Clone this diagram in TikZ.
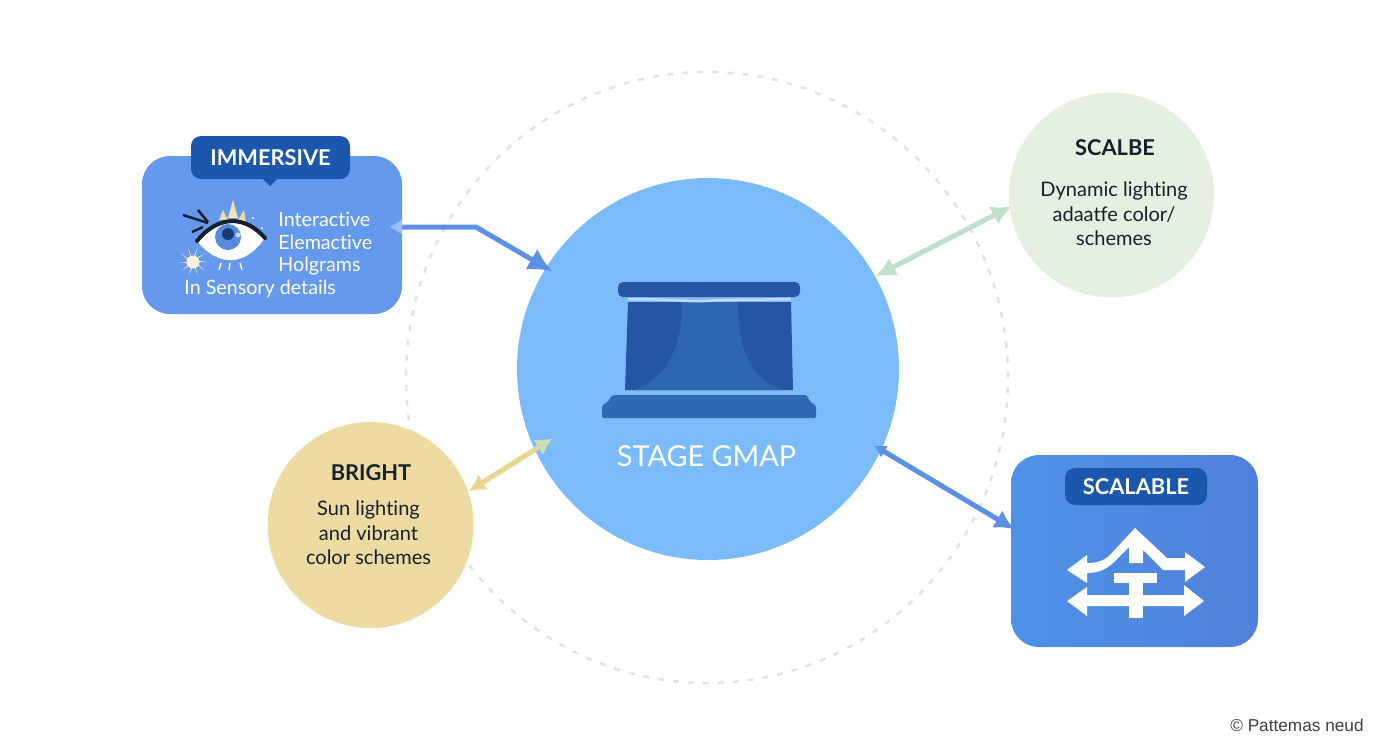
\documentclass[tikz,border=0pt]{standalone}
\usepackage{fontspec}
\setmainfont{Lato}[Ligatures=NoCommon]
\newfontfamily\creditfont{Liberation Sans}
\usepackage{tikz}
\usetikzlibrary{arrows.meta}
\definecolor{stageblue}{HTML}{7CBBFA}
\definecolor{boxblue}{HTML}{6599EE}
\definecolor{tagblue}{HTML}{1B57AC}
\definecolor{curtaindark}{HTML}{2456A4}
\definecolor{curtainmid}{HTML}{3068B4}
\definecolor{paleblue}{HTML}{9CC0F4}
\definecolor{arrowblue}{HTML}{5B90E6}
\definecolor{scaleleft}{HTML}{4E92E8}
\definecolor{scaleright}{HTML}{5080DA}
\definecolor{softgreen}{HTML}{E6F0E0}
\definecolor{arrowgreen}{HTML}{C2E0C8}
\definecolor{softyellow}{HTML}{EDDBA2}
\definecolor{arrowyellow}{HTML}{EAD68E}
\definecolor{inkdark}{HTML}{16202C}
\newcommand{\sz}[1]{\fontsize{#1}{#1}\selectfont}
\tikzset{
  bubble/.style={circle,inner sep=0pt},
  tagbox/.style={fill=tagblue,rounded corners=0.1cm,inner sep=0pt,text=white,font=\sz{6.2}\bfseries},
  bubbletitle/.style={text=inkdark,font=\sz{6.2}\bfseries},
  bubbletext/.style={text=inkdark,font=\sz{5.7},align=center},
  whitetext/.style={text=white,font=\sz{5.6},anchor=west},
  link/.style={line width=0.05cm}
}
\begin{document}
\begin{tikzpicture}
    \useasboundingbox (0,0) rectangle (13.92,7.52);
    % dashed ring behind everything
    \draw[gray!22,line width=0.025cm,dash pattern=on 0.06cm off 0.09cm] (7.07,3.745) ellipse (3.01cm and 3.055cm);

    % main shapes
    \node[bubble,fill=stageblue,minimum size=3.82cm] (stage) at (7.08,3.83) {};
    \node[bubble,fill=softgreen,minimum size=2.05cm] (adaptive) at (11.115,5.57) {};
    \node[bubble,fill=softyellow,minimum size=2.06cm] (bright) at (3.705,2.27) {};
    \node[fill=boxblue,rounded corners=0.28cm,minimum width=2.6cm,minimum height=1.58cm,inner sep=0pt] (immersive) at (2.72,5.17) {};
    \node[left color=scaleleft,right color=scaleright,rounded corners=0.28cm,minimum width=2.47cm,minimum height=1.92cm,inner sep=0pt] (scalable) at (11.345,2.01) {};

    % tags
    \fill[tagblue] (2.60,5.76) -- (2.80,5.76) -- (2.70,5.66) -- cycle;
    \node[tagbox,minimum width=1.59cm,minimum height=0.43cm] (immersivetag) at (2.705,5.945) {\raisebox{-0.03cm}{IMMERSIVE}};
    \node[tagbox,minimum width=1.42cm,minimum height=0.37cm] (scalabletag) at (11.36,2.655) {SCALABLE};

    % connectors
    \coordinate (bend) at (4.76,5.25);
    \draw[link,arrowblue,{Latex[length=0.13cm,width=0.16cm,color=paleblue]}-{Latex[length=0.24cm,width=0.24cm]},shorten >=-0.08cm] (3.89,5.25) -- (bend) -- (stage.148);
    \draw[link,arrowgreen,{Latex[length=0.2cm,width=0.2cm]}-{Latex[length=0.2cm,width=0.2cm]},shorten >=-0.03cm] (stage.29) -- (adaptive.187);
    \draw[link,arrowyellow,{Latex[length=0.17cm,width=0.18cm]}-{Latex[length=0.17cm,width=0.18cm,color=arrowgreen!70!arrowyellow]},shorten >=-0.22cm] (bright.19) -- (stage.205);
    \draw[link,arrowblue,{Latex[length=0.12cm,width=0.14cm]}-{Latex[length=0.2cm,width=0.2cm]},shorten <=-0.09cm,shorten >=-0.05cm] (stage.-25) -- (scalable.169);

    % stage icon
    \fill[curtaindark] (6.28,4.5) -- (7.91,4.5) -- (7.93,3.62) -- (6.25,3.62) -- cycle;
    \fill[curtainmid!90!curtaindark] (6.35,3.62) .. controls (6.65,3.75) and (6.82,4.0) .. (6.82,4.5) -- (7.38,4.5) .. controls (7.38,4.0) and (7.5,3.75) .. (7.83,3.62) -- cycle;
    \draw[paleblue!60!white,line width=0.025cm] (6.28,4.53) .. controls (6.7,4.53) and (6.9,4.50) .. (7.05,4.51) .. controls (7.3,4.53) and (7.6,4.52) .. (7.91,4.53);
    \fill[curtaindark,rounded corners=0.05cm] (6.18,4.70) rectangle (8.00,4.55);
    \fill[curtainmid,rounded corners=0.02cm] (6.02,3.34) -- (8.16,3.34) -- (8.16,3.47) -- (8.1,3.5) -- (8.07,3.57) -- (6.12,3.57) -- (6.08,3.5) -- (6.02,3.47) -- cycle;
    \node[text=white,font=\sz{8.2}] (stagelabel) at (7.065,2.96) {STAGE GMAP};

    % eye icon
    \fill[softyellow!80!white] (2.28,5.34) -- (2.33,5.52) -- (2.38,5.34) -- cycle;
    \fill[softyellow] (2.19,5.32) -- (2.23,5.42) -- (2.28,5.32) -- cycle;
    \fill[softyellow] (2.38,5.32) -- (2.44,5.42) -- (2.46,5.30) -- cycle;
    \fill[white] (1.97,5.11) .. controls (2.18,5.35) and (2.45,5.35) .. (2.65,5.14) .. controls (2.45,4.85) and (2.18,4.85) .. (1.97,5.11) -- cycle;
    \fill[arrowblue!90!curtaindark] (2.28,5.15) circle (0.13cm);
    \fill[curtaindark!70!black] (2.28,5.18) circle (0.06cm);
    \fill[paleblue!60!white] (2.38,5.17) circle (0.025cm);
    \draw[inkdark,line width=0.04cm,line cap=round] (1.97,5.11) .. controls (2.18,5.37) and (2.45,5.37) .. (2.65,5.14);
    \draw[inkdark,line width=0.025cm] (1.83,5.37) -- (2.08,5.29) (1.98,5.42) -- (2.08,5.30) (1.92,5.20) -- (2.03,5.25);
    \foreach \a in {0,36,...,324}
      \fill[softyellow!70!white] (1.93,4.90) ++(\a+14:0.05) -- ++(\a-7:0.10) -- (1.93,4.90) -- cycle;
    \fill[softyellow!40!white] (1.93,4.90) circle (0.065cm);
    \draw[white,line width=0.015cm] (2.21,4.89) -- (2.19,4.82) (2.30,4.89) -- (2.29,4.82) (2.40,4.89) -- (2.42,4.82);
    \fill[white] (2.53,5.34) circle (0.012cm) (2.62,5.24) circle (0.012cm);

    % text in the boxes
    \node[whitetext] (immersiveone) at (2.66,5.33) {Interactive};
    \node[whitetext] (immersivetwo) at (2.66,5.10) {Elemactive};
    \node[whitetext] (immersivethree) at (2.66,4.86) {Holgrams};
    \node[whitetext] (immersivefour) at (1.72,4.63) {In Sensory details};

    \node[bubbletitle] (adaptivetitle) at (11.15,6.04) {SCALBE};
    \node[bubbletext] (adaptivetext) at (11.14,5.38) {Dynamic lighting\\[1.3pt]adaatfe color/\\[1.3pt]schemes};
    \node[bubbletitle] (brighttitle) at (3.71,2.795) {BRIGHT};
    \node[bubbletext] (brighttext) at (3.685,2.19) {Sun lighting\\[1.3pt]and vibrant\\[1.3pt]color schemes};

    % scale icon
    \fill[white] (11.35,2.24) -- (11.67,1.94) -- (11.85,1.94) -- (11.85,2.0) -- (12.05,1.85) -- (11.85,1.70) -- (11.85,1.82) -- (11.63,1.82) -- (11.43,2.02) -- (11.43,1.89) -- (11.29,1.89) -- (11.29,2.05) -- (11.13,1.89) .. controls (11.05,1.82) and (10.98,1.79) .. (10.87,1.79) -- (10.87,1.69) -- (10.67,1.82) -- (10.87,1.97) -- (10.87,1.89) .. controls (10.97,1.89) and (11.03,1.91) .. (11.09,1.96) -- cycle;
    \fill[white] (11.14,1.79) rectangle (11.57,1.69);
    \fill[white] (11.29,1.69) rectangle (11.43,1.34);
    \fill[white] (10.67,1.51) -- (10.87,1.65) -- (10.87,1.57) -- (11.84,1.57) -- (11.84,1.67) -- (12.04,1.51) -- (11.84,1.36) -- (11.84,1.46) -- (10.87,1.46) -- (10.87,1.36) -- cycle;

    \node[text=black!75,font=\sz{4.9}\creditfont,anchor=east] (credit) at (13.76,0.27) {© Pattemas neud};
\end{tikzpicture}
\end{document}
